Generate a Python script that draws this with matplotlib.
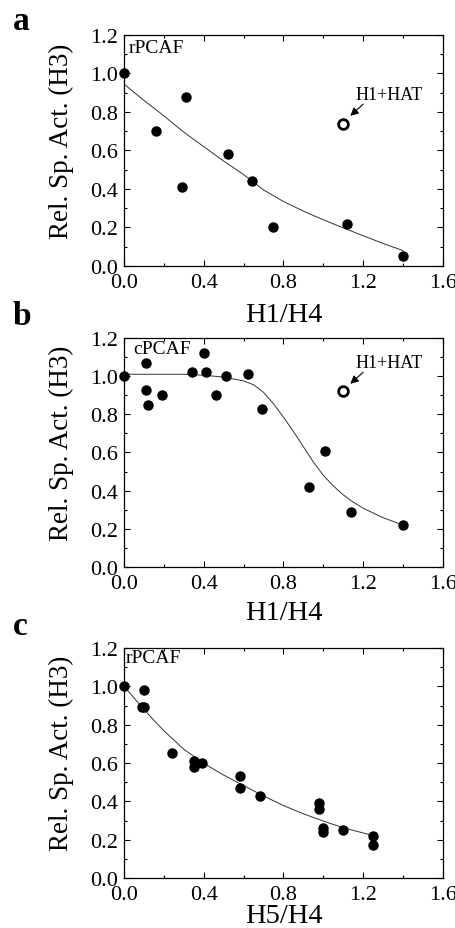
import matplotlib
matplotlib.use("Agg")
import matplotlib.pyplot as plt
from matplotlib.ticker import MultipleLocator, FormatStrFormatter

plt.rcParams['font.family'] = ['Liberation Serif', 'DejaVu Serif']

# panel a: rPCAF vs H1/H4
a_x = [0.0, 0.16, 0.29, 0.31, 0.52, 0.64, 0.75, 1.12, 1.40]
a_y = [1.00, 0.70, 0.41, 0.88, 0.58, 0.44, 0.20, 0.22, 0.05]
a_hat = (1.10, 0.74)
a_fit_x = [0.0, 0.1, 0.2, 0.3, 0.4, 0.5, 0.6, 0.7, 0.8, 0.9, 1.0, 1.1, 1.2, 1.3, 1.4]
a_fit_y = [0.945, 0.86, 0.78, 0.695, 0.62, 0.545, 0.475, 0.395, 0.335, 0.285, 0.24, 0.198, 0.157, 0.117, 0.08]

# panel b: cPCAF vs H1/H4
b_x = [0.0, 0.11, 0.11, 0.12, 0.19, 0.34, 0.40, 0.41, 0.46, 0.51, 0.62, 0.69, 0.93, 1.01, 1.14, 1.40]
b_y = [1.00, 1.07, 0.93, 0.85, 0.90, 1.02, 1.12, 1.02, 0.90, 1.00, 1.01, 0.83, 0.42, 0.61, 0.29, 0.22]
b_hat = (1.10, 0.92)
b_fit_x = [0.0, 0.1, 0.2, 0.3, 0.4, 0.5, 0.6, 0.65, 0.7, 0.75, 0.8, 0.85, 0.9, 0.95,
           1.0, 1.05, 1.1, 1.15, 1.2, 1.3, 1.4]
b_fit_y = [1.01, 1.01, 1.01, 1.01, 1.005, 0.995, 0.975, 0.955, 0.915, 0.855, 0.785, 0.71, 0.63, 0.55,
           0.48, 0.425, 0.378, 0.34, 0.308, 0.258, 0.22]

# panel c: rPCAF vs H5/H4
c_x = [0.0, 0.10, 0.09, 0.10, 0.24, 0.35, 0.35, 0.39, 0.58, 0.58, 0.68, 0.98, 0.98, 1.00, 1.00, 1.10, 1.25, 1.25]
c_y = [1.00, 0.98, 0.89, 0.89, 0.65, 0.61, 0.58, 0.60, 0.53, 0.47, 0.43, 0.39, 0.36, 0.26, 0.24, 0.25, 0.22, 0.17]
c_fit_x = [0.0, 0.05, 0.1, 0.15, 0.2, 0.3, 0.4, 0.5, 0.6, 0.7, 0.8, 0.9, 1.0, 1.1, 1.2, 1.25]
c_fit_y = [1.0, 0.94, 0.88, 0.823, 0.768, 0.672, 0.598, 0.537, 0.482, 0.428, 0.378, 0.335, 0.297, 0.262, 0.235, 0.222]

fig = plt.figure(figsize=(4.55, 9.29), dpi=100)

panels = [
    # letter, rect, x, y, fit x, fit y, open point, enzyme label, label pos, xlabel, xlabel y, letter baseline px
    ('a', [0.2725, 0.7126, 0.701, 0.2487], a_x, a_y, a_fit_x, a_fit_y, a_hat, 'rPCAF', (0.022, 1.136), 'H1/H4', -0.155, 30),
    ('b', [0.2725, 0.3886, 0.701, 0.2465], b_x, b_y, b_fit_x, b_fit_y, b_hat, 'cPCAF', (0.044, 1.144), 'H1/H4', -0.142, 325),
    ('c', [0.2725, 0.0538, 0.701, 0.2476], c_x, c_y, c_fit_x, c_fit_y, None, 'rPCAF', (0.010, 1.148), 'H5/H4', -0.108, 635),
]

for letter, rect, px, py, fx, fy, hat, enz, enz_pos, xlab, xlab_y, letter_y in panels:
    ax = fig.add_axes(rect)
    ax.plot(fx, fy, '-', color='#333333', lw=0.7)
    ax.plot(px, py, 'o', color='black', ms=6.5, clip_on=False)
    if hat is not None:
        ax.plot(hat[0], hat[1], 'o', mfc='white', mec='black', mew=2.0, ms=7)
        ax.text(hat[0] + 0.23, hat[1] + 0.15, 'H1+HAT', fontsize=13, ha='center', va='center')
        ax.annotate('', xy=(hat[0] + 0.025, hat[1] + 0.03), xytext=(hat[0] + 0.11, hat[1] + 0.11),
                    arrowprops=dict(arrowstyle='-|>', color='black', lw=0.8, mutation_scale=12))
    ax.text(enz_pos[0], enz_pos[1], enz, fontsize=14, ha='left', va='center')

    ax.set_xlim(0, 1.6)
    ax.set_ylim(0, 1.2)
    ax.xaxis.set_major_locator(MultipleLocator(0.4))
    ax.xaxis.set_minor_locator(MultipleLocator(0.2))
    ax.yaxis.set_major_locator(MultipleLocator(0.2))
    ax.yaxis.set_minor_locator(MultipleLocator(0.1))
    ax.xaxis.set_major_formatter(FormatStrFormatter('%.1f'))
    ax.yaxis.set_major_formatter(FormatStrFormatter('%.1f'))
    ax.tick_params(which='both', direction='in', top=True, right=True, width=0.8, labelsize=16)
    ax.tick_params(which='major', length=4, pad=4)
    ax.tick_params(axis='x', which='major', pad=5)
    ax.tick_params(which='minor', length=2)
    for s in ax.spines.values():
        s.set_linewidth(0.9)

    ax.set_ylabel('Rel. Sp. Act. (H3)', fontsize=19.5)
    ax.yaxis.set_label_coords(-0.158, 0.545)
    ax.set_xlabel(xlab, fontsize=20.5)
    ax.xaxis.set_label_coords(0.5, xlab_y)

    fig.text(13 / 455, 1 - letter_y / 929, letter, fontsize=24, fontweight='bold',
             ha='left', va='baseline')

fig.savefig('out.png', dpi=100)
